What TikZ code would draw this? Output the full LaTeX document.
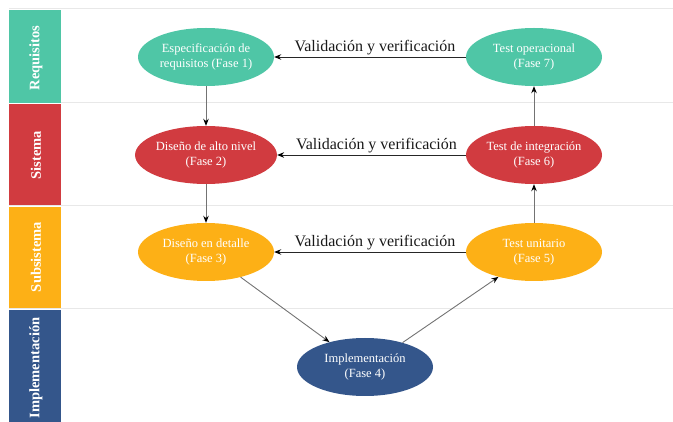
\documentclass[tikz,border=0pt]{standalone}
\usepackage{fontspec}
\setmainfont{Liberation Serif}
\usetikzlibrary{arrows.meta,shapes.geometric}
\definecolor{cteal}{RGB}{79,198,166}
\definecolor{cred}{RGB}{209,59,64}
\definecolor{corange}{RGB}{253,176,22}
\definecolor{cblue}{RGB}{52,86,139}
\definecolor{csep}{RGB}{232,232,232}
\tikzset{
  phase/.style={ellipse, minimum width=136pt, minimum height=58pt, inner sep=0pt,
    text=white, align=center, font=\fontsize{12.5}{14.5}\selectfont},
  band/.style={draw=none, minimum width=52pt, inner sep=0pt, anchor=north west},
  bandlbl/.style={rotate=90, text=white, font=\fontsize{14.5}{16}\selectfont\bfseries},
  sep/.style={draw=csep, line width=1pt},
  arr/.style={draw=black!55, line width=0.9pt, -{Stealth[length=7pt,width=5.5pt,color=black]}},
  harr/.style={draw=black!85, line width=0.9pt, -{Stealth[length=7pt,width=5.5pt,color=black]}},
  vlbl/.style={font=\fontsize{16}{18}\selectfont, text=black!90, anchor=base, yshift=5.5pt, xshift=5pt, inner sep=0pt}
}
\begin{document}
\begin{tikzpicture}[x=1pt,y=-1pt]
\useasboundingbox (0,0) rectangle (673,422);
% separators
\coordinate (s1a) at (9,8.5); \coordinate (s1b) at (673,8.5);
\coordinate (s2a) at (9,103); \coordinate (s2b) at (673,103);
\coordinate (s3a) at (9,206); \coordinate (s3b) at (673,206);
\coordinate (s4a) at (9,309); \coordinate (s4b) at (673,309);
\draw[sep] (s1a) -- (s1b);
\draw[sep] (s2a) -- (s2b);
\draw[sep] (s3a) -- (s3b);
\draw[sep] (s4a) -- (s4b);
% lane bands
\node[band, fill=cteal, minimum height=93pt] (b1) at (9,9.5) {};
\node[band, fill=cred, minimum height=101pt] (b2) at (9,104) {};
\node[band, fill=corange, minimum height=101pt] (b3) at (9,207) {};
\node[band, fill=cblue, minimum height=115pt] (b4) at (9,310) {};
\node[bandlbl] (l1) at (36,58) {Requisitos};
\node[bandlbl] (l2) at (36,155) {Sistema};
\node[bandlbl] (l3) at (36,257) {Subsistema};
\node[bandlbl] (l4) at (36,368) {Implementación};
% phases
\node[phase, fill=cteal] (F1) at (206,57) {Especificación de\\requisitos (Fase 1)};
\node[phase, fill=cteal] (F7) at (534,57) {Test operacional\\(Fase 7)};
\node[phase, fill=cred] (F2) at (206,155) {Diseño de alto nivel\\(Fase 2)};
\node[phase, fill=cred] (F6) at (534,155) {Test de integración\\(Fase 6)};
\node[phase, fill=corange] (F3) at (206,252) {Diseño en detalle\\(Fase 3)};
\node[phase, fill=corange] (F5) at (534,252) {Test unitario\\(Fase 5)};
\node[phase, fill=cblue] (F4) at (365,367) {Implementación\\(Fase 4)};
% connectors
\draw[arr] (F1) -- (F2);
\draw[arr] (F2) -- (F3);
\draw[arr] (F3.-36) -- (F4.145);
\draw[arr] (F4.33) -- (F5.215);
\draw[arr] (F5) -- (F6);
\draw[arr] (F6) -- (F7);
\draw[harr] (F7) -- node[vlbl] {Validación y verificación} (F1);
\draw[harr] (F6) -- node[vlbl] {Validación y verificación} (F2);
\draw[harr] (F5) -- node[vlbl] {Validación y verificación} (F3);
\end{tikzpicture}
\end{document}
